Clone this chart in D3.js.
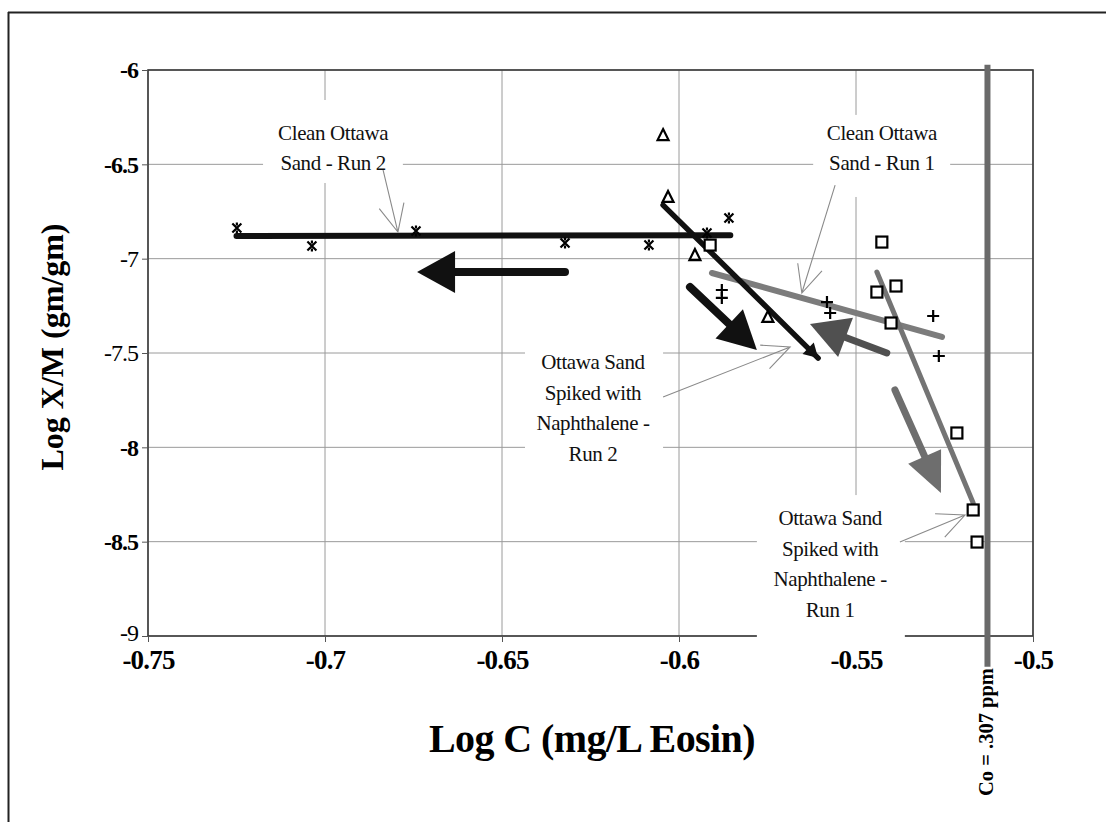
<!DOCTYPE html>
<html>
<head>
<meta charset="utf-8">
<script src="https://cdn.jsdelivr.net/npm/d3@7"></script>
<style>
  body { margin: 0; background: #fff; }
  svg { display: block; }
  text { font-family: "Liberation Serif", "Times New Roman", serif; }
</style>
</head>
<body>
<svg id="chart" width="1106" height="822"></svg>
<script>
// ---- axis ticks ----
const xTickValues = [-0.75, -0.7, -0.65, -0.6, -0.55, -0.5];
const yTickValues = [-6, -6.5, -7, -7.5, -8, -8.5, -9];
const yTickPlain = [-7, -7.5, -9];   // labels printed in regular weight

// ---- measured points: [log C, log X/M] ----
const cleanRun2 = [
  [-0.7249, -6.837], [-0.7037, -6.933], [-0.6743, -6.853], [-0.6322, -6.917],
  [-0.6085, -6.928], [-0.5921, -6.864], [-0.5859, -6.784]
];
const cleanRun1 = [
  [-0.5879, -7.166], [-0.5879, -7.208], [-0.5582, -7.230], [-0.5573, -7.288],
  [-0.5282, -7.304], [-0.5266, -7.516]
];
const naphRun2 = [
  [-0.6045, -6.345], [-0.6031, -6.673], [-0.5955, -6.981], [-0.5749, -7.309]
];
const naphRun1 = [
  [-0.5912, -6.928], [-0.5427, -6.912], [-0.5441, -7.177], [-0.5387, -7.145],
  [-0.5401, -7.341], [-0.5215, -7.924], [-0.5169, -8.332], [-0.5158, -8.502]
];

// ---- fitted trend lines (end points) ----
const cleanRun2Trend = [[-0.7250, -6.880], [-0.5855, -6.876]];
const cleanRun1Trend = [[-0.5907, -7.076], [-0.5257, -7.415]];
const naphRun2Trend  = [[-0.6045, -6.716], [-0.5607, -7.527]];
const naphRun1Trend  = [[-0.5441, -7.071], [-0.5169, -8.295]];

// ---- direction arrows: [tail, tip] ----
const arrowCleanRun2 = [[-0.6322, -7.071], [-0.6740, -7.071]];
const arrowNaphRun2  = [[-0.5969, -7.150], [-0.5780, -7.484]];
const arrowCleanRun1 = [[-0.5413, -7.500], [-0.5630, -7.346]];
const arrowNaphRun1  = [[-0.5390, -7.696], [-0.5260, -8.242]];

// ---- initial concentration ----
const coPpm = 0.307;
const coLabel = "Co = .307 ppm";

// ---- callout labels ----
const calloutCleanRun2 = ["Clean Ottawa", "Sand - Run 2"];
const calloutCleanRun1 = ["Clean Ottawa", "Sand - Run 1"];
const calloutNaphRun2  = ["Ottawa Sand", "Spiked with", "Naphthalene -", "Run 2"];
const calloutNaphRun1  = ["Ottawa Sand", "Spiked with", "Naphthalene -", "Run 1"];

const xTitle = "Log C (mg/L Eosin)";
const yTitle = "Log X/M (gm/gm)";

// ================= drawing =================
const svg = d3.select("#chart");
const plot = { left: 148, right: 1033, top: 70, bottom: 636 };
const serif = '"Liberation Serif", "Times New Roman", serif';

const x = d3.scaleLinear().domain([-0.75, -0.5]).range([plot.left, plot.right]);
const y = d3.scaleLinear().domain([-6, -9]).range([plot.top, plot.bottom]);

// outer figure frame (top and left edges)
svg.append("line").attr("x1", 8).attr("x2", 1106).attr("y1", 12.5).attr("y2", 12.5)
  .attr("stroke", "#222").attr("stroke-width", 2);
svg.append("line").attr("x1", 8.5).attr("x2", 8.5).attr("y1", 12).attr("y2", 822)
  .attr("stroke", "#222").attr("stroke-width", 2);

// gridlines
const grid = svg.append("g");
grid.selectAll("line.h").data(yTickValues).join("line")
  .attr("x1", plot.left).attr("x2", plot.right)
  .attr("y1", d => y(d)).attr("y2", d => y(d))
  .attr("stroke", "#9a9a9a").attr("stroke-width", 1);
grid.selectAll("line.v").data(xTickValues).join("line")
  .attr("y1", plot.top).attr("y2", plot.bottom)
  .attr("x1", d => x(d)).attr("x2", d => x(d))
  .attr("stroke", "#9a9a9a").attr("stroke-width", 1);

// plot frame
svg.append("rect")
  .attr("x", plot.left).attr("y", plot.top)
  .attr("width", plot.right - plot.left).attr("height", plot.bottom - plot.top)
  .attr("fill", "none").attr("stroke", "#3a3a3a").attr("stroke-width", 1.6);

// axes
const fmt = d => String(d);
const yAxis = svg.append("g").attr("transform", `translate(${plot.left},0)`)
  .call(d3.axisLeft(y).tickValues(yTickValues).tickSize(6).tickPadding(4).tickFormat(fmt));
const xAxis = svg.append("g").attr("transform", `translate(0,${plot.bottom})`)
  .call(d3.axisBottom(x).tickValues(xTickValues).tickSize(6).tickPadding(8).tickFormat(fmt));
[yAxis, xAxis].forEach(a => {
  a.attr("font-family", null);
  a.select(".domain").remove();
  a.selectAll(".tick line").attr("stroke", "#555");
  a.selectAll(".tick text")
    .attr("fill", "#000")
    .style("font-family", serif)
    .style("font-weight", "bold");
});
yAxis.selectAll(".tick text")
  .style("font-size", "24px").style("letter-spacing", "-1px")
  .style("font-weight", d => yTickPlain.includes(d) ? "normal" : "bold");
// lift the bottom-most value label a little off the x labels
yAxis.selectAll(".tick text").filter(d => d === -9).attr("dy", "0.2em");
xAxis.selectAll(".tick text")
  .style("font-size", "27px").style("letter-spacing", "-0.8px");

// axis titles
svg.append("text")
  .attr("transform", `translate(63,347) rotate(-90)`)
  .attr("text-anchor", "middle")
  .style("font-weight", "bold").style("font-size", "32px")
  .text(yTitle);
svg.append("text")
  .attr("x", 592).attr("y", 752)
  .attr("text-anchor", "middle")
  .style("font-weight", "bold").style("font-size", "40px")
  .style("letter-spacing", "-0.6px")
  .text(xTitle);

// white boxes behind the callout texts
const calloutBoxes = [
  { x0: -0.7175, x1: -0.6780, y0: -6.159, y1: -6.599 },   // clean run 2
  { x0: -0.5621, x1: -0.5234, y0: -6.238, y1: -6.673 },   // clean run 1
  { x0: -0.6435, x1: -0.6045, y0: -7.431, y1: -8.120 },   // naph run 2
  { x0: -0.5780, x1: -0.5362, y0: -8.253, y1: -9.048 }    // naph run 1
];
svg.append("g").selectAll("rect").data(calloutBoxes).join("rect")
  .attr("x", d => x(d.x0)).attr("y", d => y(d.y0))
  .attr("width", d => x(d.x1) - x(d.x0)).attr("height", d => y(d.y1) - y(d.y0))
  .attr("fill", "#fff");

// initial concentration line
const coX = Math.log10(coPpm);
svg.append("line")
  .attr("x1", x(coX)).attr("x2", x(coX))
  .attr("y1", y(-5.972)).attr("y2", y(-9.163))
  .attr("stroke", "#6a6a6a").attr("stroke-width", 6);
svg.append("text")
  .attr("transform", `translate(${x(coX) + 6},${y(-9.17)}) rotate(-90)`)
  .attr("text-anchor", "end")
  .style("font-weight", "bold").style("font-size", "20.5px")
  .text(coLabel);

// trend lines
const lineGen = d3.line().x(d => x(d[0])).y(d => y(d[1]));
const trends = [
  { pts: cleanRun2Trend, color: "#111", w: 6 },
  { pts: cleanRun1Trend, color: "#7c7c7c", w: 6 },
  { pts: naphRun1Trend, color: "#747474", w: 5 },
  { pts: naphRun2Trend, color: "#111", w: 5.5 }
];
svg.append("g").selectAll("path").data(trends).join("path")
  .attr("d", d => lineGen(d.pts))
  .attr("fill", "none").attr("stroke", d => d.color).attr("stroke-width", d => d.w)
  .attr("stroke-linecap", "round");

// triangular head along the segment p0 -> p1, tip at p1
function headPath(p0, p1, len, half) {
  const dx = p1[0] - p0[0], dy = p1[1] - p0[1], L = Math.hypot(dx, dy);
  const ux = dx / L, uy = dy / L, nx = -uy, ny = ux;
  const bx = p1[0] - ux * len, by = p1[1] - uy * len;
  return `M${p1[0]},${p1[1]}L${bx + nx * half},${by + ny * half}L${bx - nx * half},${by - ny * half}Z`;
}
{
  const a = [x(naphRun2Trend[0][0]), y(naphRun2Trend[0][1])];
  const b = [x(naphRun2Trend[1][0]), y(naphRun2Trend[1][1])];
  svg.append("path").attr("d", headPath(a, b, 14, 8)).attr("fill", "#111");
}

// block arrows showing the direction of each run
const blockArrows = [
  { pts: arrowCleanRun2, color: "#111", shaft: 8, len: 38, half: 21 },
  { pts: arrowNaphRun2, color: "#111", shaft: 8, len: 38, half: 20 },
  { pts: arrowCleanRun1, color: "#505050", shaft: 7, len: 38, half: 21 },
  { pts: arrowNaphRun1, color: "#6e6e6e", shaft: 7, len: 40, half: 18 }
];
const arrowG = svg.append("g");
blockArrows.forEach(d => {
  const a = [x(d.pts[0][0]), y(d.pts[0][1])];
  const b = [x(d.pts[1][0]), y(d.pts[1][1])];
  const L = Math.hypot(b[0] - a[0], b[1] - a[1]);
  const ux = (b[0] - a[0]) / L, uy = (b[1] - a[1]) / L;
  arrowG.append("line")
    .attr("x1", a[0]).attr("y1", a[1])
    .attr("x2", b[0] - ux * (d.len - 2)).attr("y2", b[1] - uy * (d.len - 2))
    .attr("stroke", d.color).attr("stroke-width", d.shaft).attr("stroke-linecap", "round");
  arrowG.append("path").attr("d", headPath(a, b, d.len, d.half)).attr("fill", d.color);
});

// markers
const mk = svg.append("g").attr("fill", "none").attr("stroke", "#000").attr("stroke-width", 2.2);
mk.selectAll("path.star").data(cleanRun2).join("path")
  .attr("transform", d => `translate(${x(d[0])},${y(d[1])})`)
  .attr("d", "M-4.5,-4.5L4.5,4.5M4.5,-4.5L-4.5,4.5M0,-5.5V-2.5M0,2.5V5.5");
mk.selectAll("path.plus").data(cleanRun1).join("path")
  .attr("transform", d => `translate(${x(d[0])},${y(d[1])})`)
  .attr("d", "M-6,0H6M0,-6V6");
mk.selectAll("path.tri").data(naphRun2).join("path")
  .attr("transform", d => `translate(${x(d[0])},${y(d[1])})`)
  .attr("d", "M0,-6L5.5,5H-5.5Z");
mk.selectAll("rect.sq").data(naphRun1).join("rect")
  .attr("x", d => x(d[0]) - 5.5).attr("y", d => y(d[1]) - 5.5)
  .attr("width", 11).attr("height", 11)
  .attr("fill", "#fff");

// callout leader lines with open arrowheads, and their texts
const callouts = [
  { lines: calloutCleanRun2, cx: -0.6977, cy: -6.371, from: [-0.6836, -6.530], to: [-0.6794, -6.859] },
  { lines: calloutCleanRun1, cx: -0.5427, cy: -6.371, from: [-0.5559, -6.610], to: [-0.5653, -7.182] },
  { lines: calloutNaphRun2, cx: -0.6243, cy: -7.585, from: [-0.6045, -7.733], to: [-0.5686, -7.468] },
  { lines: calloutNaphRun1, cx: -0.5573, cy: -8.412, from: [-0.5376, -8.502], to: [-0.5192, -8.359] }
];
const lead = svg.append("g").attr("stroke", "#8a8a8a").attr("stroke-width", 1.1).attr("fill", "none");
callouts.forEach(c => {
  const a = [x(c.from[0]), y(c.from[1])], b = [x(c.to[0]), y(c.to[1])];
  const ang = Math.atan2(a[1] - b[1], a[0] - b[0]);
  const arm = 30, spread = 25 * Math.PI / 180;
  lead.append("path").attr("d",
    `M${a[0]},${a[1]}L${b[0]},${b[1]}` +
    `M${b[0] + arm * Math.cos(ang + spread)},${b[1] + arm * Math.sin(ang + spread)}L${b[0]},${b[1]}` +
    `L${b[0] + arm * Math.cos(ang - spread)},${b[1] + arm * Math.sin(ang - spread)}`);
  const t = svg.append("text")
    .attr("text-anchor", "middle")
    .style("font-size", "21px").style("letter-spacing", "-0.4px")
    .attr("fill", "#111");
  c.lines.forEach((s, i) => {
    t.append("tspan").attr("x", x(c.cx)).attr("y", y(c.cy) + i * 30.5).text(s);
  });
});
</script>
</body>
</html>
